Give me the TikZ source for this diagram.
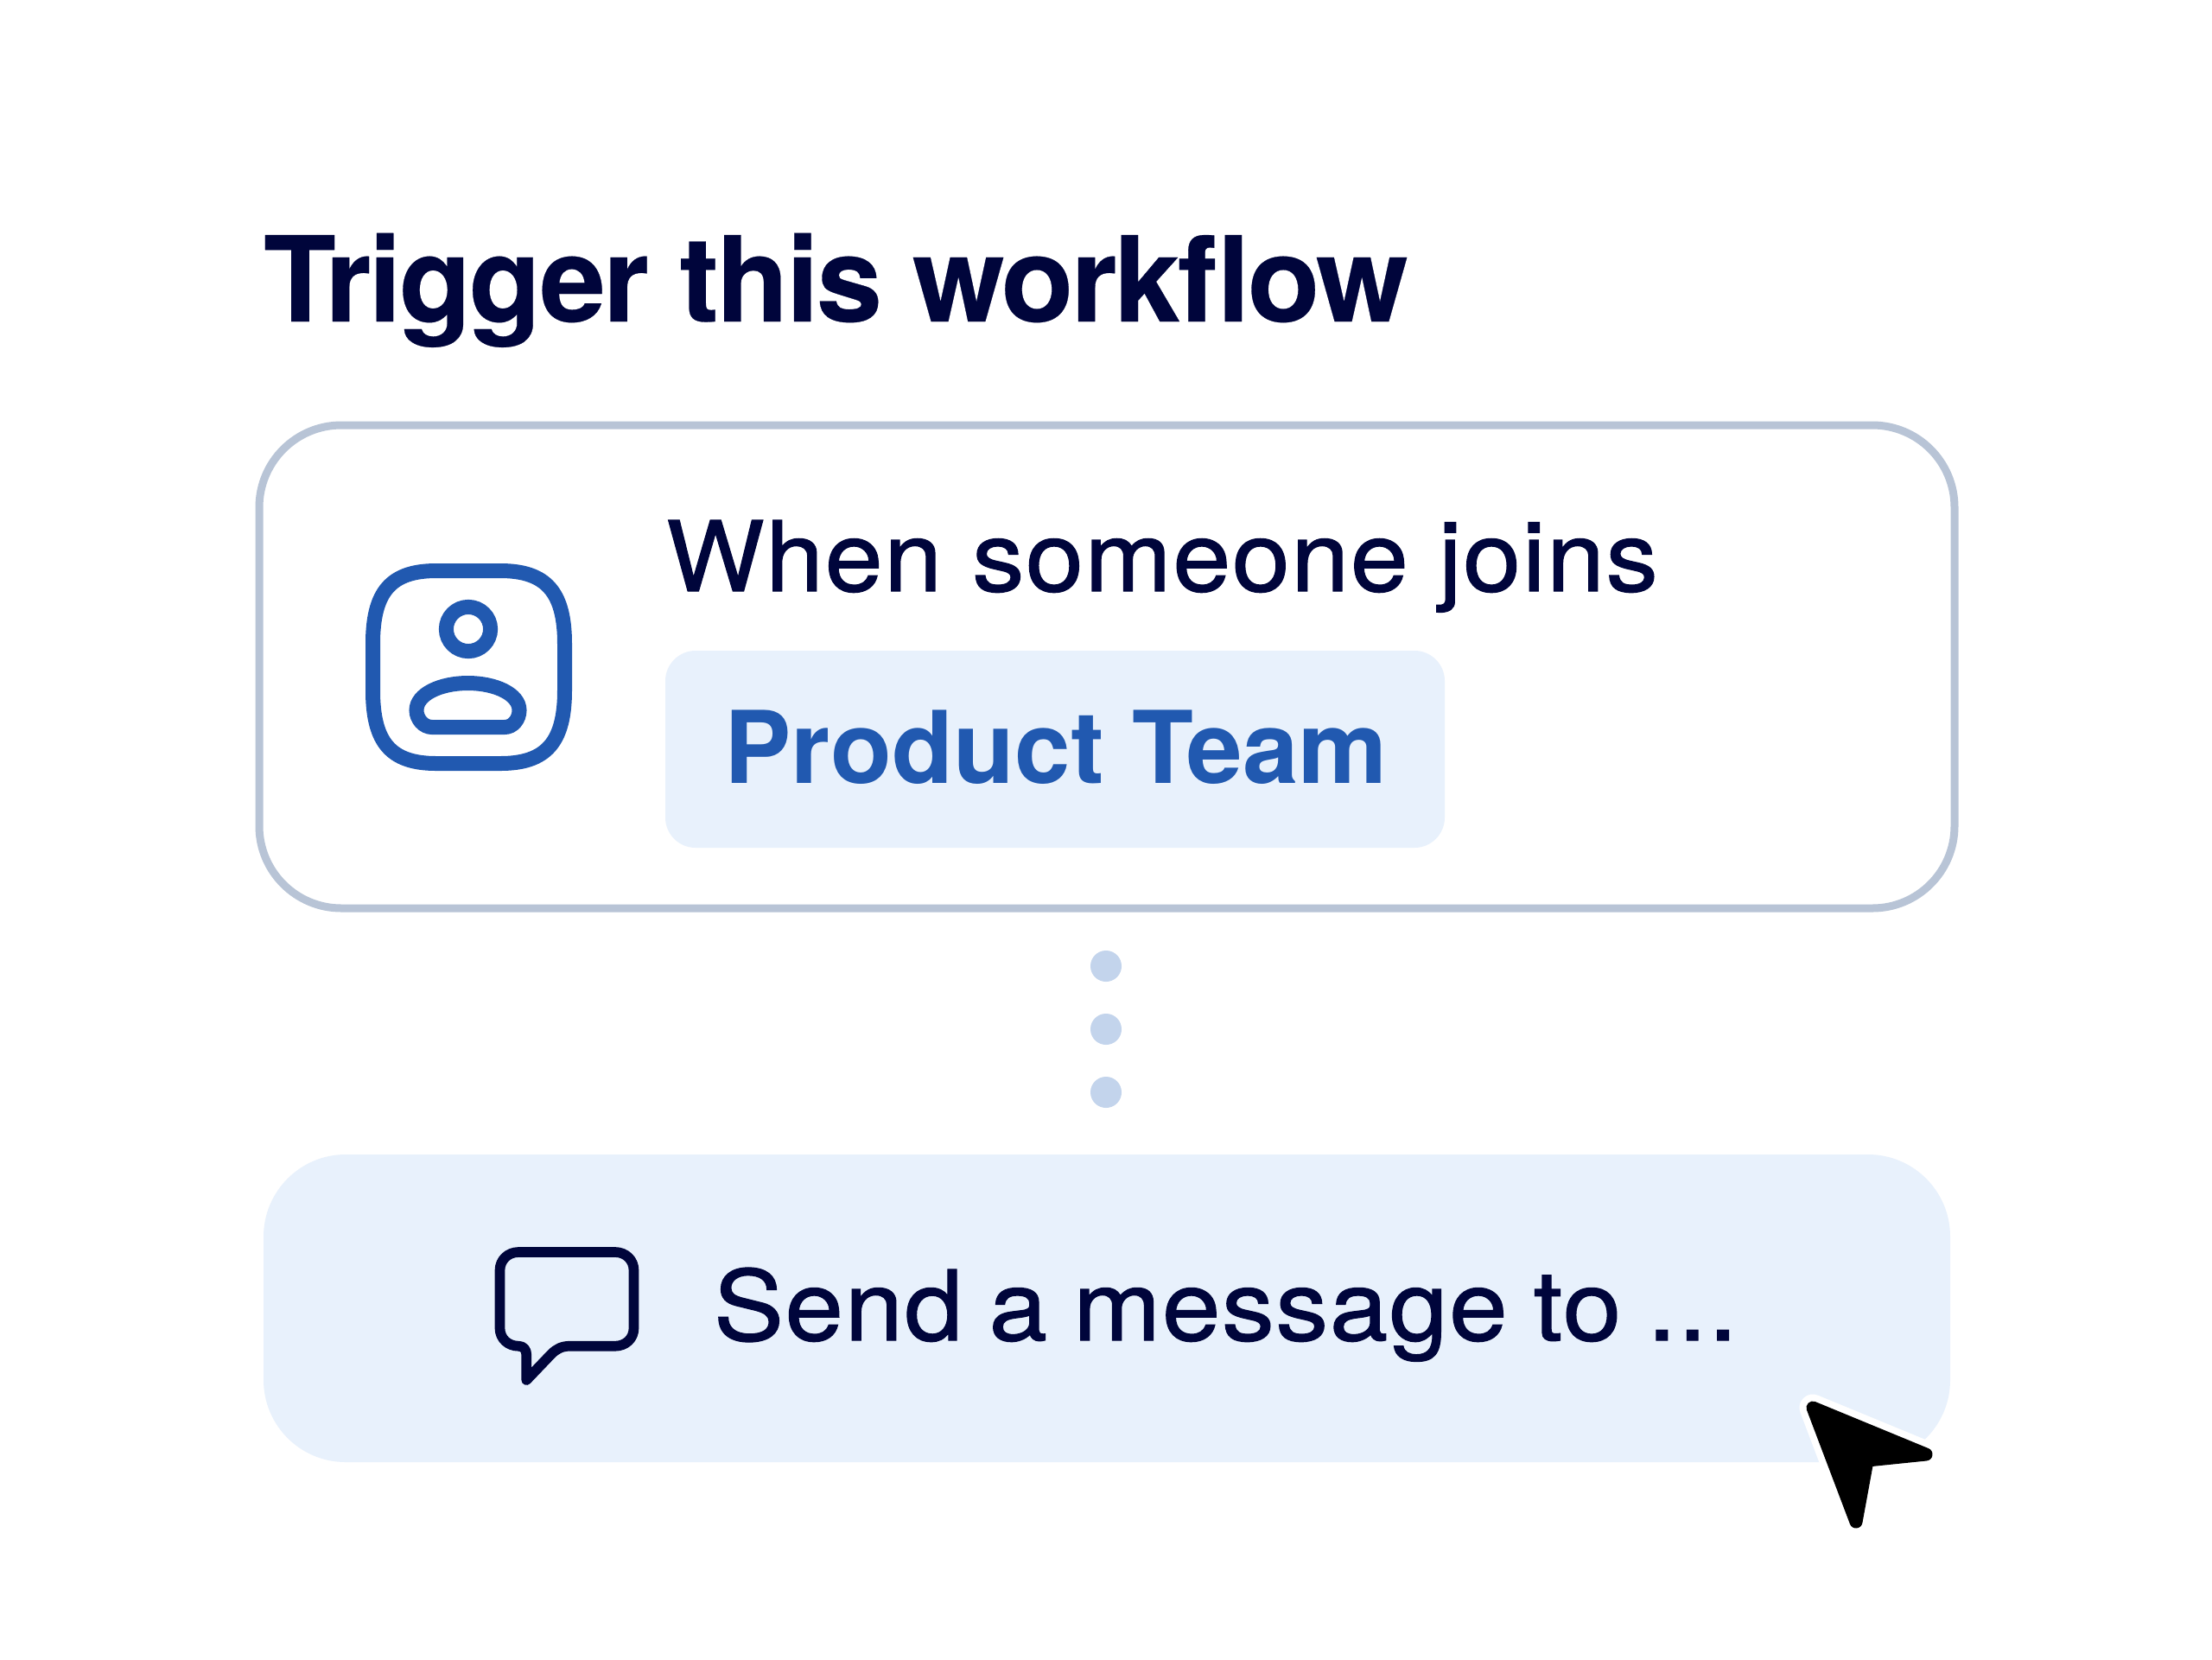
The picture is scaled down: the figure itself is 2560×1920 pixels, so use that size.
\documentclass[tikz,border=0pt]{standalone}
\usepackage{fontspec}
\setmainfont{TeX Gyre Heros}
\newfontfamily\titlef[LetterSpace=-2.2,FakeBold=0.2]{TeX Gyre Heros Bold}
\newfontfamily\bodyf[FakeStretch=1.07,LetterSpace=1.4,FakeBold=1.1]{TeX Gyre Heros}
\newfontfamily\sendf[FakeStretch=1.08,LetterSpace=1.4,WordSpace=0.85,FakeBold=1.1]{TeX Gyre Heros}
\newfontfamily\teamf[LetterSpace=0.2]{TeX Gyre Heros Bold}
\definecolor{navy}{HTML}{00053B}
\definecolor{brand}{HTML}{2159B0}
\definecolor{edge}{HTML}{B8C4D6}
\definecolor{pale}{HTML}{E8F1FC}
\definecolor{dotc}{HTML}{C3D4EC}
\tikzset{
 txt/.style={anchor=base west,inner sep=0pt,outer sep=0pt},
 dotn/.style={circle,fill=dotc,minimum size=0.36cm,inner sep=0pt},
 iconline/.style={brand,line width=0.17cm},
 cursorshape/.style={line join=round},
}
\begin{document}
\begin{tikzpicture}[x=0.01cm,y=-0.01cm]
\useasboundingbox (0,0) rectangle (2560,1920);
\fill[white] (0,0) rectangle (2560,1920);
\node[txt,text=navy] (title) at (305,372) {\fontsize{39pt}{46pt}\titlef Trigger this workflow};
\draw[edge,line width=0.09cm,rounded corners=0.95cm,fill=white] (300,492) rectangle (2262,1051);
\fill[pale,rounded corners=0.35cm] (770,753) rectangle (1672,981);
\node[txt,text=navy] (when) at (771,684) {\fontsize{32pt}{38pt}\bodyf When someone joins};
\node[txt,text=brand] (team) at (838,906) {\fontsize{33pt}{38pt}\teamf Product Team};
% user icon
\draw[iconline]
 (431.5,745) .. controls (431.5,685) and (452,660.5) .. (505,660.5)
 -- (579,660.5) .. controls (632,660.5) and (653.5,685) .. (653.5,745)
 -- (653.5,799) .. controls (653.5,859) and (632,883.5) .. (579,883.5)
 -- (505,883.5) .. controls (452,883.5) and (431.5,859) .. (431.5,799) -- cycle;
\draw[iconline] (542,728) circle (25.6);
\draw[iconline]
 (500,841.5) -- (584,841.5) .. controls (594,841.5) and (601,832) .. (601,822)
 .. controls (601,803) and (573,790.5) .. (541.5,790.5)
 .. controls (510,790.5) and (482,803) .. (482,822)
 .. controls (482,832) and (490,841.5) .. (500,841.5) -- cycle;
% dots
\node[dotn] (d1) at (1280,1118) {};
\node[dotn] (d2) at (1280,1191) {};
\node[dotn] (d3) at (1280,1264) {};
% bottom box
\fill[pale,rounded corners=0.95cm] (305,1336) rectangle (2257,1692);
\node[txt,text=navy] (send) at (826,1551) {\fontsize{32pt}{38pt}\sendf Send a message to ...};
% bubble
\draw[navy,line width=0.117cm,line join=round]
 (600,1449) -- (712,1449) .. controls (724,1449) and (733.5,1458) .. (733.5,1470)
 -- (733.5,1537) .. controls (733.5,1549) and (724,1557.7) .. (712,1557.7)
 -- (660,1557.7) .. controls (650,1557.7) and (644,1561) .. (638,1567)
 -- (609.3,1597) -- (609.3,1568) .. controls (609.3,1562) and (606,1557.7) .. (600,1557.7)
 .. controls (588,1557.7) and (578.5,1549) .. (578.5,1537)
 -- (578.5,1470) .. controls (578.5,1458) and (588,1449) .. (600,1449) -- cycle;
% cursor
\draw[white,fill=white,line width=0.31cm,cursorshape] (2098,1629) -- (2229,1683) -- (2161,1690) -- (2148,1761) -- cycle;
\draw[black,fill=black,line width=0.15cm,cursorshape] (2098,1629) -- (2229,1683) -- (2161,1690) -- (2148,1761) -- cycle;
\end{tikzpicture}
\end{document}
